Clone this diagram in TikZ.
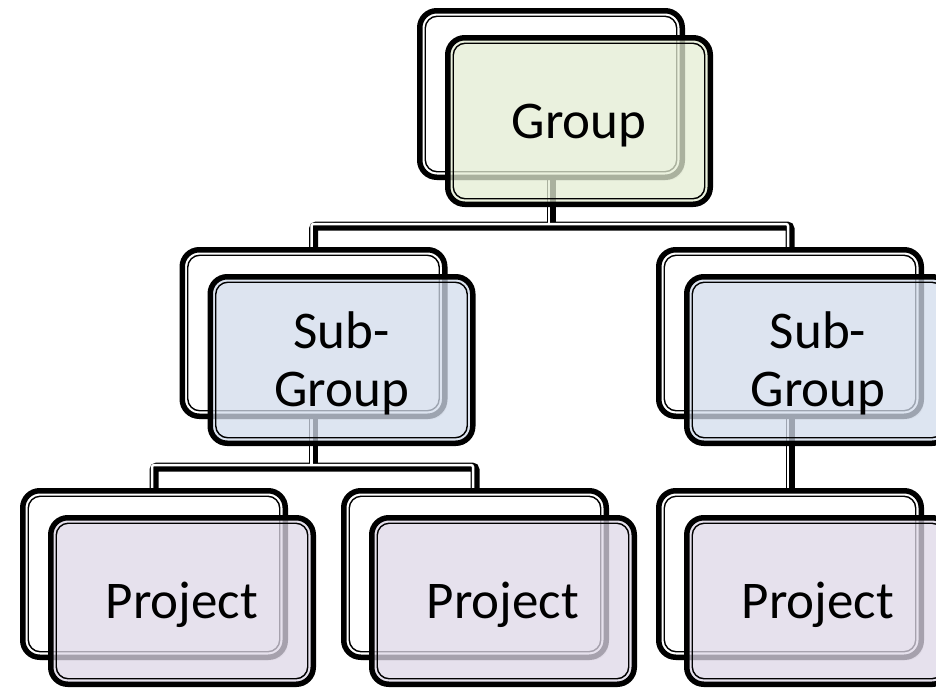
\documentclass[tikz,border=0pt]{standalone}
\usepackage{fontspec}
\setmainfont{Carlito}
\usetikzlibrary{shadows,calc}
\definecolor{gfill}{RGB}{228,237,211}
\definecolor{sfill}{RGB}{210,220,236}
\definecolor{pfill}{RGB}{222,215,231}
\tikzset{
  backbox/.style={draw=black, line width=5.5pt, fill=white, rounded corners=17pt,
    minimum width=262.5pt, minimum height=166.5pt, inner sep=0pt,
    general shadow={shadow xshift=2.5pt, shadow yshift=-3pt, fill=black, opacity=0.12}},
  innerline/.style={draw=black, line width=1.4pt, rounded corners=12pt,
    minimum width=251.5pt, minimum height=155.5pt, inner sep=0pt},
  frontbox/.style={draw=black, line width=5.5pt, rounded corners=17pt,
    minimum width=262.5pt, minimum height=166.5pt, inner sep=0pt,
    fill opacity=0.75, draw opacity=1, text opacity=1, text=black,
    font=\fontsize{53}{58}\selectfont, align=center, text height=34pt, text depth=0pt},
  twoline/.style={text height=92pt},
  conblack/.style={line width=9pt, black, rounded corners=3pt},
  conwhite/.style={line width=2.5pt, white, rounded corners=2pt,
    transform canvas={xshift=-2pt,yshift=2pt}},
}
\begin{document}
\begin{tikzpicture}[x=1pt,y=-1pt]
\useasboundingbox (0,0) rectangle (936,688);
% tree anchors (back boxes)
\coordinate (gc) at (551,94);
\coordinate (s1c) at (313.5,333);
\coordinate (s2c) at (790,333);
\coordinate (p1c) at (154,574);
\coordinate (p2c) at (475,574);
\coordinate (p3c) at (790,574);
\coordinate (j1) at (551,226);
\coordinate (j2) at (313.5,467);
% connectors
\foreach \st in {conblack,conwhite}{
  \draw[\st] (gc) -- (j1);
  \draw[\st] (s1c) |- (j1) -| (s2c);
  \draw[\st] (s1c) -- (j2);
  \draw[\st] (p1c) |- (j2) -| (p2c);
  \draw[\st] (s2c) -- (p3c);
}
% group
\node[backbox] (g) at (gc) {};
\node[innerline] (gi) at (g) {};
\node[frontbox, fill=gfill] (gf) at ($(g)+(28,27)$) {Group};
\node[innerline] (gfi) at (gf) {};
% sub-groups
\node[backbox] (s1) at (s1c) {};
\node[innerline] (s1i) at (s1) {};
\node[frontbox, twoline, fill=sfill] (s1f) at ($(s1)+(28,27)$) {Sub-\\Group};
\node[innerline] (s1fi) at (s1f) {};
\node[backbox] (s2) at (s2c) {};
\node[innerline] (s2i) at (s2) {};
\node[frontbox, twoline, fill=sfill] (s2f) at ($(s2)+(28,27)$) {Sub-\\Group};
\node[innerline] (s2fi) at (s2f) {};
% projects
\node[backbox] (p1) at (p1c) {};
\node[innerline] (p1i) at (p1) {};
\node[frontbox, fill=pfill] (p1f) at ($(p1)+(28,27)$) {Project};
\node[innerline] (p1fi) at (p1f) {};
\node[backbox] (p2) at (p2c) {};
\node[innerline] (p2i) at (p2) {};
\node[frontbox, fill=pfill] (p2f) at ($(p2)+(28,27)$) {Project};
\node[innerline] (p2fi) at (p2f) {};
\node[backbox] (p3) at (p3c) {};
\node[innerline] (p3i) at (p3) {};
\node[frontbox, fill=pfill] (p3f) at ($(p3)+(28,27)$) {Project};
\node[innerline] (p3fi) at (p3f) {};
\end{tikzpicture}
\end{document}
